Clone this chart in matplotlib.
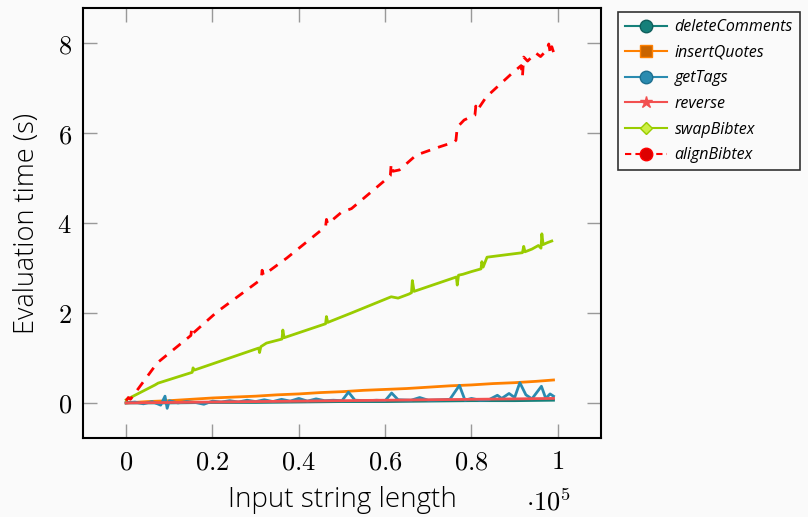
import numpy as np
import matplotlib
matplotlib.use('Agg')
import matplotlib.pyplot as plt
from matplotlib.lines import Line2D
from matplotlib.ticker import FuncFormatter

plt.rcParams['mathtext.fontset'] = 'cm'

# string lengths are in units of 1e5 characters
align_x = [0.0, 0.005, 0.01, 0.072, 0.150, 0.152, 0.155, 0.21, 0.313, 0.315, 0.318, 0.372,
           0.462, 0.464, 0.467, 0.499, 0.522, 0.612, 0.614, 0.618, 0.633, 0.672, 0.725, 0.76,
           0.764, 0.767, 0.783, 0.808, 0.81, 0.813, 0.834, 0.894, 0.915, 0.918, 0.921, 0.93,
           0.949, 0.96, 0.975, 0.979, 0.983, 0.986, 0.99]
align_y = [0.05, 0.12, 0.08, 0.89, 1.50, 1.66, 1.55, 2.02, 2.75, 2.95, 2.84, 3.22,
           3.92, 4.08, 3.98, 4.24, 4.32, 5.05, 5.32, 5.15, 5.18, 5.51, 5.69, 5.80,
           5.84, 6.13, 6.29, 6.40, 6.60, 6.50, 6.80, 7.33, 7.50, 7.25, 7.69, 7.60,
           7.78, 7.70, 7.85, 7.98, 7.75, 7.92, 7.80]

swap_x = [0.0, 0.067, 0.074, 0.153, 0.155, 0.158, 0.307, 0.309, 0.312, 0.325, 0.361, 0.363,
          0.366, 0.40, 0.462, 0.464, 0.467, 0.522, 0.614, 0.63, 0.655, 0.661, 0.663, 0.667,
          0.765, 0.767, 0.77, 0.78, 0.80, 0.822, 0.824, 0.827, 0.836, 0.918, 0.921, 0.924,
          0.94, 0.955, 0.961, 0.963, 0.966, 0.975, 0.986]
swap_y = [0.07, 0.40, 0.44, 0.68, 0.78, 0.73, 1.22, 1.12, 1.25, 1.33, 1.42, 1.62,
          1.45, 1.56, 1.76, 1.92, 1.79, 2.00, 2.36, 2.33, 2.42, 2.45, 2.72, 2.48,
          2.80, 2.62, 2.84, 2.86, 2.92, 2.98, 3.14, 3.02, 3.24, 3.34, 3.48, 3.36,
          3.42, 3.50, 3.44, 3.76, 3.52, 3.56, 3.60]

quote_x = [0.0, 0.05, 0.1, 0.15, 0.2, 0.25, 0.3, 0.35, 0.4, 0.45, 0.5, 0.55, 0.6, 0.65,
           0.7, 0.75, 0.8, 0.85, 0.9, 0.95, 0.99]
quote_y = [0.0, 0.03, 0.05, 0.08, 0.11, 0.13, 0.15, 0.18, 0.20, 0.23, 0.25, 0.28, 0.30, 0.32,
           0.35, 0.38, 0.40, 0.43, 0.45, 0.48, 0.51]

rev_x = [0.0, 0.1, 0.2, 0.3, 0.4, 0.5, 0.6, 0.7, 0.8, 0.9, 0.99]
rev_y = [0.0, 0.01, 0.02, 0.03, 0.04, 0.05, 0.06, 0.07, 0.08, 0.09, 0.10]

del_x = [0.0, 0.1, 0.2, 0.3, 0.4, 0.5, 0.6, 0.7, 0.8, 0.9, 0.99]
del_y = [0.0, 0.0, 0.01, 0.01, 0.02, 0.03, 0.03, 0.04, 0.05, 0.05, 0.06]

tags_x = [0.0, 0.02, 0.04, 0.06, 0.08, 0.09, 0.095, 0.10, 0.12, 0.14, 0.16, 0.18, 0.2, 0.22,
          0.24, 0.26, 0.28, 0.30, 0.32, 0.34, 0.36, 0.38, 0.40, 0.42, 0.44, 0.46, 0.48, 0.50,
          0.515, 0.53, 0.56, 0.58, 0.60, 0.615, 0.63, 0.66, 0.68, 0.70, 0.73, 0.75, 0.772,
          0.785, 0.80, 0.82, 0.84, 0.86, 0.87, 0.887, 0.90, 0.912, 0.926, 0.94, 0.962, 0.972,
          0.982, 0.99]
tags_y = [0.0, 0.02, -0.02, 0.03, -0.05, 0.15, -0.12, 0.05, 0.0, 0.03, 0.01, -0.03, 0.04, 0.02,
          0.05, 0.02, 0.06, 0.03, 0.07, 0.03, 0.08, 0.04, 0.10, 0.04, 0.09, 0.05, 0.06, 0.05,
          0.24, 0.06, 0.05, 0.06, 0.05, 0.22, 0.07, 0.06, 0.12, 0.06, 0.07, 0.08, 0.39,
          0.06, 0.10, 0.06, 0.07, 0.17, 0.10, 0.21, 0.12, 0.45, 0.18, 0.09, 0.37, 0.10,
          0.20, 0.15]

fig = plt.figure(figsize=(8.08, 5.17), dpi=100, facecolor='#fafafa')
ax = fig.add_axes([0.1027, 0.1528, 0.6411, 0.8317], facecolor='#fafafa')

c_del = '#15807a'
c_quote = '#ff8000'
c_tags = '#2a8bb0'
c_rev = '#f25050'
c_swap = '#99cc00'
c_align = '#ff0000'

ax.plot(np.array(del_x) * 1e5, del_y, color=c_del, lw=2)
ax.plot(np.array(quote_x) * 1e5, quote_y, color=c_quote, lw=2)
ax.plot(np.array(tags_x) * 1e5, tags_y, color=c_tags, lw=2)
ax.plot(np.array(rev_x) * 1e5, rev_y, color=c_rev, lw=2)
ax.plot(np.array(swap_x) * 1e5, swap_y, color=c_swap, lw=2)
ax.plot(np.array(align_x) * 1e5, align_y, color=c_align, lw=2, ls=(0, (3.5, 3)))

ax.set_xlim(-0.1e5, 1.1e5)
ax.set_ylim(-0.78, 8.78)
ax.set_xticks([0, 0.2e5, 0.4e5, 0.6e5, 0.8e5, 1e5])
ax.set_yticks([0, 2, 4, 6, 8])
ax.xaxis.set_major_formatter(FuncFormatter(lambda v, p: '$%g$' % (v / 1e5)))
ax.yaxis.set_major_formatter(FuncFormatter(lambda v, p: '$%g$' % v))
ax.tick_params(direction='in', top=True, right=True, length=10, width=1, color='#999999',
               labelsize=19, pad=8)
for s in ax.spines.values():
    s.set_linewidth(1.5)

ax.set_xlabel('Input string length', family='Open Sans', fontweight='light', fontsize=20, labelpad=8)
ax.set_ylabel('Evaluation time (s)', family='Open Sans', fontweight='light', fontsize=19.5, labelpad=12)
fig.text(0.651, 0.012, r'$\cdot10^5$', fontsize=19)

handles = [
    Line2D([], [], color=c_del, lw=1.5, marker='o', ms=9, mfc=c_del, mec='#0f5f5c'),
    Line2D([], [], color=c_quote, lw=1.5, marker='s', ms=8, mfc='#c86400', mec=c_quote),
    Line2D([], [], color=c_tags, lw=1.5, marker='o', ms=9, mfc=c_tags, mec='#1d6f8f'),
    Line2D([], [], color=c_rev, lw=1.5, marker='*', ms=9, mfc=c_rev, mec=c_rev),
    Line2D([], [], color=c_swap, lw=1.5, marker='D', ms=6, mfc='#ccee44', mec=c_swap),
    Line2D([], [], color=c_align, lw=1.5, ls=(0, (3, 2)), marker='o', ms=9, mfc='#dd0000', mec=c_align),
]
labels = ['deleteComments', 'insertQuotes', 'getTags', 'reverse', 'swapBibtex', 'alignBibtex']
leg = fig.legend(handles, labels, loc='upper left', bbox_to_anchor=(618 / 808, 1 - 12 / 517),
                 borderaxespad=0,
                 prop={'family': 'Open Sans', 'style': 'italic', 'size': 11.5},
                 frameon=True, fancybox=False, edgecolor='black', facecolor='#fafafa',
                 handlelength=2.6, labelspacing=0.6, borderpad=0.45, handletextpad=0.5)
leg.get_frame().set_linewidth(1.2)

fig.savefig('out.png', dpi=100, facecolor='#fafafa')
